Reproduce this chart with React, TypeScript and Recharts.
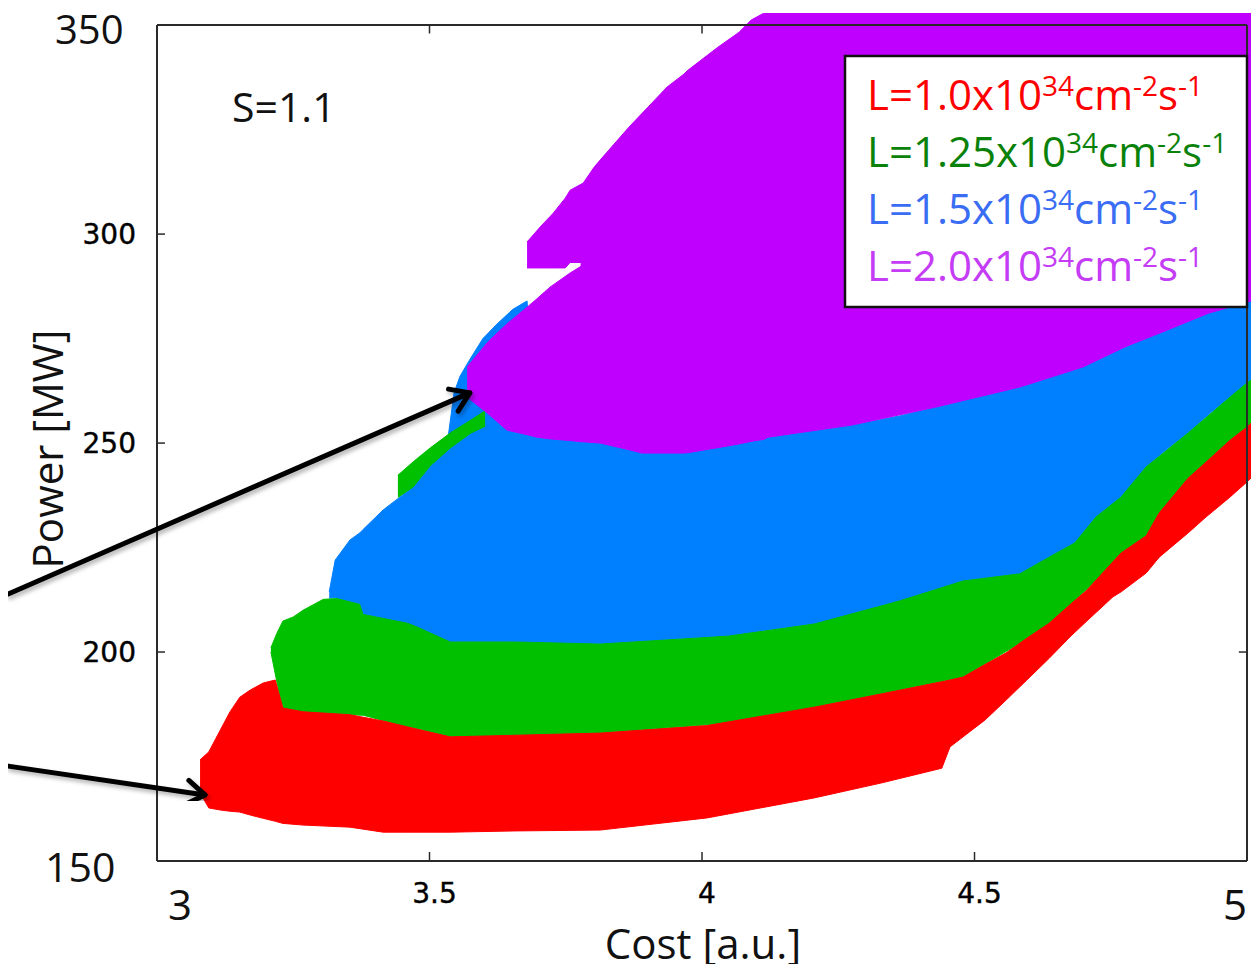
import React from "react";
import { Area, ComposedChart, ReferenceLine, XAxis, YAxis } from "recharts";

// Axis ticks (Cost in a.u., Power in MW)
const COST_TICKS = [3, 3.5, 4, 4.5, 5];
const POWER_TICKS = [150, 200, 250, 300, 350];

// L = 1.0e34 band (red)
const RED_COST = [3.079, 3.095, 3.116, 3.134, 3.152, 3.171, 3.195, 3.217, 3.231, 3.268, 3.354, 3.415, 3.459, 3.538, 3.661, 3.813, 4.009, 4.206, 4.33, 4.44, 4.455, 4.479, 4.519, 4.558, 4.596, 4.637, 4.675, 4.706, 4.754, 4.769, 4.815, 4.839, 4.892, 4.923, 4.969, 5.0, 5.022];
const RED_LOW = [166.3, 162.7, 162.2, 161.9, 161.7, 161.0, 160.2, 159.5, 159.0, 158.6, 158.1, 156.9, 156.9, 156.9, 157.2, 157.4, 160.3, 165.1, 168.7, 172.2, 177.3, 179.7, 183.7, 188.5, 193.3, 198.5, 203.6, 207.4, 213.2, 214.4, 218.9, 222.7, 228.5, 232.1, 237.1, 240.7, 243.5];
const RED_HIGH = [174.2, 176.1, 181.3, 185.7, 189.2, 190.9, 192.6, 193.3, 186.6, 185.7, 185.0, 183.5, 182.1, 179.7, 180.1, 180.6, 182.4, 186.8, 190.0, 192.9, 193.3, 194.0, 197.0, 199.8, 203.3, 206.9, 211.3, 214.8, 221.6, 223.7, 227.8, 233.3, 241.6, 245.2, 250.7, 253.8, 256.5];

// L = 1.25e34 band (green) + the thin sliver along the blue edge
const GREEN_COST = [3.209, 3.22, 3.231, 3.25, 3.268, 3.305, 3.33, 3.372, 3.378, 3.459, 3.477, 3.538, 3.661, 3.813, 4.048, 4.206, 4.362, 4.479, 4.583, 4.637, 4.684, 4.723, 4.769, 4.815, 4.892, 4.969, 5.0, 5.022];
const GREEN_LOW = [200.0, 192.8, 186.6, 186.0, 185.7, 185.3, 185.2, 184.9, 184.9, 182.1, 181.7, 179.7, 180.1, 180.6, 183.0, 186.8, 190.9, 194.0, 202.1, 206.9, 212.3, 217.2, 223.7, 227.8, 241.6, 250.7, 253.8, 256.5];
const GREEN_HIGH = [201.0, 204.5, 207.4, 208.4, 210.0, 212.6, 212.8, 211.4, 209.0, 206.9, 206.0, 202.4, 202.4, 201.9, 203.8, 206.7, 212.2, 217.0, 218.7, 222.7, 226.1, 232.3, 237.1, 244.3, 252.4, 261.0, 264.4, 266.5];
const STRIP_COST = [3.442, 3.47, 3.501, 3.538, 3.576, 3.602];
const STRIP_LOW = [237.0, 239.5, 244.5, 248.8, 252.4, 254.0];
const STRIP_HIGH = [242.3, 245.5, 248.8, 252.4, 255.5, 257.7];

// L = 1.5e34 band (blue)
const BLUE_COST = [3.316, 3.327, 3.354, 3.372, 3.378, 3.415, 3.446, 3.47, 3.501, 3.531, 3.545, 3.556, 3.574, 3.598, 3.624, 3.653, 3.679, 3.697, 3.813, 3.89, 3.967, 4.048, 4.121, 4.206, 4.275, 4.362, 4.429, 4.479, 4.583, 4.637, 4.684, 4.723, 4.769, 4.815, 4.853, 4.892, 4.93, 4.969, 5.0, 5.022];
const BLUE_LOW = [212.9, 213.0, 212.0, 211.4, 209.0, 207.0, 205.9, 206.0, 204.0, 202.6, 202.4, 202.4, 202.4, 202.4, 202.4, 202.4, 202.3, 202.2, 201.9, 202.5, 203.2, 203.8, 205.2, 206.7, 209.0, 212.2, 214.9, 217.0, 218.7, 222.7, 226.1, 232.3, 237.1, 244.3, 248.5, 252.4, 256.9, 261.0, 264.4, 266.5];
const BLUE_HIGH = [214.4, 222.0, 226.8, 228.5, 229.3, 234.0, 237.1, 239.5, 244.5, 248.3, 262.0, 266.0, 270.0, 275.0, 278.5, 282.0, 284.0, 251.4, 250.0, 247.6, 247.6, 249.5, 251.4, 253.0, 254.3, 256.5, 258.6, 260.2, 263.4, 265.6, 267.6, 269.7, 272.5, 275.0, 277.0, 279.0, 281.1, 282.6, 283.7, 284.5];

// L = 2.0e34 band (purple), main body and the detached block near 3.7
const PURPLE_COST = [3.569, 3.606, 3.62, 3.642, 3.679, 3.697, 3.721, 3.758, 3.778, 3.782, 3.802, 3.813, 3.866, 3.89, 3.901, 3.936, 3.967, 3.974, 4.029, 4.068, 4.09, 4.114, 4.121, 4.275, 4.429, 4.583, 4.699, 4.776, 4.853, 4.93, 5.0, 5.022];
const PURPLE_LOW = [261.0, 257.2, 255.6, 253.1, 252.0, 251.4, 251.0, 250.6, 250.3, 250.3, 250.1, 250.0, 248.4, 247.6, 247.6, 247.6, 247.6, 247.7, 248.9, 249.8, 250.4, 250.9, 251.4, 254.3, 258.6, 263.4, 268.2, 273.0, 277.0, 281.1, 283.7, 284.5];
const PURPLE_HIGH = [268.2, 274.0, 275.8, 278.5, 282.5, 284.5, 287.3, 290.7, 292.3, 312.2, 316.0, 317.7, 325.6, 328.9, 330.4, 335.2, 338.3, 339.2, 344.7, 348.3, 351.2, 352.9, 352.9, 352.9, 352.9, 352.9, 352.9, 352.9, 352.9, 352.9, 352.9, 352.9];
const BLOCK_COST = [3.679, 3.703, 3.727, 3.749, 3.758, 3.782];
const BLOCK_LOW = [291.9, 291.9, 291.9, 291.9, 293.2, 293.2];
const BLOCK_HIGH = [298.1, 301.7, 305.0, 308.6, 310.5, 312.2];

// annotation arrows: [start, tip] in (cost, power)
const ARROW_UPPER = [{ x: 2.727, y: 213.9 }, { x: 3.574, y: 262.0 }];
const ARROW_LOWER = [{ x: 2.727, y: 172.7 }, { x: 3.088, y: 165.8 }];

const COLORS = {
  red: "#ff0000",
  green: "#00c000",
  blue: "#0080ff",
  purple: "#c000ff",
  frame: "#2a2a2a",
};

const band = (cost: number[], low: number[], high: number[]) =>
  cost.map((c, i) => ({ cost: c, power: [low[i], high[i]] }));

const SANS = "'Open Sans', sans-serif";
const GNU = "'DejaVu Sans', sans-serif";

function CostTick(props: any) {
  const { x, y, payload } = props;
  const v = payload.value;
  if (v === 3) {
    return <text x={x + 11} y={y + 59} fontFamily={SANS} fontSize={42} fill="#111">3</text>;
  }
  if (v === 5) {
    return <text x={x} y={y + 59} textAnchor="end" fontFamily={SANS} fontSize={42} fill="#111">5</text>;
  }
  return (
    <g>
      <line x1={x} x2={x} y1={y} y2={y - 9} stroke={COLORS.frame} strokeWidth={1.5} />
      <text x={x + 5} y={y + 42} textAnchor="middle" fontFamily={GNU} fontSize={28} fill="#000" stroke="#000" strokeWidth={0.4}>
        {String(v)}
      </text>
    </g>
  );
}

function PowerTick(props: any) {
  const { x, y, payload } = props;
  const v = payload.value;
  if (v === 350) {
    return <text x={x - 102} y={y + 19} fontFamily={SANS} fontSize={40} fill="#111">350</text>;
  }
  if (v === 150) {
    return <text x={x - 112} y={y + 21} fontFamily={SANS} fontSize={41} fill="#111">150</text>;
  }
  return (
    <g>
      <line x1={x} x2={x + 8} y1={y} y2={y} stroke={COLORS.frame} strokeWidth={1.5} />
      <text x={x - 21} y={y + 10} textAnchor="end" fontFamily={GNU} fontSize={28} fill="#000" stroke="#000" strokeWidth={0.4}>
        {String(v)}
      </text>
    </g>
  );
}

function Arrow(p: any) {
  return (
    <line
      x1={p.x1}
      y1={p.y1}
      x2={p.x2}
      y2={p.y2}
      stroke="#000"
      strokeWidth={5}
      strokeLinecap="round"
      markerEnd="url(#arrowTip)"
      filter="url(#arrowShadow)"
    />
  );
}

function LegendLine({ y, color, value }: { y: number; color: string; value: string }) {
  return (
    <text x={867} y={y} fill={color} fontFamily={SANS} fontSize={42}>
      L={value}x10
      <tspan dy={-14} fontSize={28}>34</tspan>
      <tspan dy={14}>cm</tspan>
      <tspan dy={-14} fontSize={28}>-2</tspan>
      <tspan dy={14}>s</tspan>
      <tspan dy={-14} fontSize={28}>-1</tspan>
    </text>
  );
}

export default function App() {
  const frame = { stroke: COLORS.frame, strokeWidth: 2 };
  return (
    <div style={{ position: "relative", width: 1259, height: 972, margin: -8, background: "#fff", overflow: "hidden" }}>
      <div style={{ position: "absolute", left: 0, top: 478, width: 8, height: 422, background: "#b6dce8" }} />
      <ComposedChart width={1259} height={972} margin={{ top: 13, right: 0, bottom: 0, left: 0 }}>
        <defs>
          <marker id="arrowTip" markerUnits="userSpaceOnUse" markerWidth={40} markerHeight={40} viewBox="0 0 40 40" refX={34} refY={20} orient="auto">
            <path d="M16,8 L34,20 L16,32" fill="none" stroke="#000" strokeWidth={5} strokeLinecap="round" strokeLinejoin="round" />
          </marker>
          <filter id="arrowShadow" x="-20%" y="-20%" width="140%" height="140%">
            <feDropShadow dx={2} dy={3} stdDeviation={2} floodColor="#000" floodOpacity={0.3} />
          </filter>
        </defs>
        <XAxis
          dataKey="cost"
          type="number"
          domain={[3, 5.022]}
          allowDataOverflow
          ticks={COST_TICKS}
          interval={0}
          height={111}
          axisLine={false}
          tickLine={false}
          tickSize={0}
          tickMargin={0}
          tick={CostTick}
        />
        <YAxis
          type="number"
          domain={[150, 352.9]}
          allowDataOverflow
          ticks={POWER_TICKS}
          interval={0}
          width={157}
          axisLine={false}
          tickLine={false}
          tickSize={0}
          tickMargin={0}
          tick={PowerTick}
        />
        <Area data={band(BLUE_COST, BLUE_LOW, BLUE_HIGH)} dataKey="power" type="linear" fill={COLORS.blue} fillOpacity={1} stroke={COLORS.blue} strokeWidth={1} dot={false} activeDot={false} isAnimationActive={false} />
        <Area data={band(STRIP_COST, STRIP_LOW, STRIP_HIGH)} dataKey="power" type="linear" fill={COLORS.green} fillOpacity={1} stroke={COLORS.green} strokeWidth={1} dot={false} activeDot={false} isAnimationActive={false} />
        <Area data={band(PURPLE_COST, PURPLE_LOW, PURPLE_HIGH)} dataKey="power" type="linear" fill={COLORS.purple} fillOpacity={1} stroke={COLORS.purple} strokeWidth={1} dot={false} activeDot={false} isAnimationActive={false} />
        <Area data={band(BLOCK_COST, BLOCK_LOW, BLOCK_HIGH)} dataKey="power" type="linear" fill={COLORS.purple} fillOpacity={1} stroke={COLORS.purple} strokeWidth={1} dot={false} activeDot={false} isAnimationActive={false} />
        <Area data={band(GREEN_COST, GREEN_LOW, GREEN_HIGH)} dataKey="power" type="linear" fill={COLORS.green} fillOpacity={1} stroke={COLORS.green} strokeWidth={1} dot={false} activeDot={false} isAnimationActive={false} />
        <Area data={band(RED_COST, RED_LOW, RED_HIGH)} dataKey="power" type="linear" fill={COLORS.red} fillOpacity={1} stroke={COLORS.red} strokeWidth={1} dot={false} activeDot={false} isAnimationActive={false} />

        {/* plot frame */}
        <ReferenceLine segment={[{ x: 3, y: 150 }, { x: 5, y: 150 }]} {...frame} />
        <ReferenceLine segment={[{ x: 3, y: 350 }, { x: 5, y: 350 }]} {...frame} />
        <ReferenceLine segment={[{ x: 3, y: 150 }, { x: 3, y: 350 }]} {...frame} />
        <ReferenceLine segment={[{ x: 5, y: 150 }, { x: 5, y: 350 }]} {...frame} />
        {/* mirrored ticks that show on white */}
        <ReferenceLine segment={[{ x: 3.5, y: 350 }, { x: 3.5, y: 348 }]} stroke={COLORS.frame} strokeWidth={1.5} />
        <ReferenceLine segment={[{ x: 4, y: 350 }, { x: 4, y: 348 }]} stroke={COLORS.frame} strokeWidth={1.5} />
        <ReferenceLine segment={[{ x: 5, y: 200 }, { x: 4.985, y: 200 }]} stroke={COLORS.frame} strokeWidth={1.5} />

        <ReferenceLine segment={ARROW_UPPER} ifOverflow="visible" shape={Arrow} />
        <ReferenceLine segment={ARROW_LOWER} ifOverflow="visible" shape={Arrow} />
      </ComposedChart>

      <svg width={1259} height={972} style={{ position: "absolute", left: 0, top: 0, pointerEvents: "none" }}>
        <text x={232} y={122} fontFamily={SANS} fontSize={41} fill="#111">S=1.1</text>
        <text x={703} y={959} textAnchor="middle" fontFamily={SANS} fontSize={42} fill="#111">Cost [a.u.]</text>
        <text x={63} y={449} textAnchor="middle" transform="rotate(-90, 63, 449)" fontFamily={SANS} fontSize={42} fill="#111">
          Power [MW]
        </text>
        <rect x={845} y={56} width={402} height={251} fill="#fff" stroke="#111" strokeWidth={2.5} />
        <LegendLine y={110} color="#ff0000" value="1.0" />
        <LegendLine y={167} color="#0a820a" value="1.25" />
        <LegendLine y={224} color="#3a6cf4" value="1.5" />
        <LegendLine y={281} color="#c43cf5" value="2.0" />
      </svg>
    </div>
  );
}
